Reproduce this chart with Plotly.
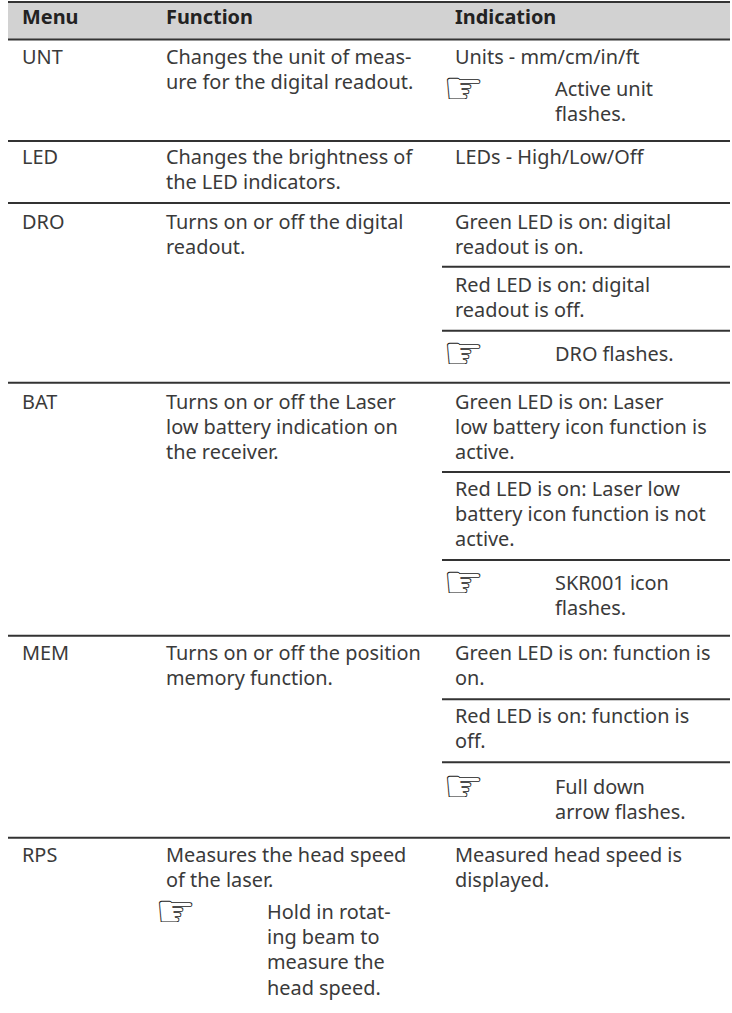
import plotly.graph_objects as go

# column positions
X_MENU, X_FUNC, X_IND = 22, 166, 455
X_SUB_FUNC, X_SUB_IND = 267, 555
X_HAND_FUNC, X_HAND_IND = 155, 443
X_LEFT, X_SPLIT, X_RIGHT = 8, 442, 730

headers = ["Menu", "Function", "Indication"]
header_x = [X_MENU, X_FUNC, X_IND]
header_y = [19, 19, 19]

body_text = [
    "UNT", "Changes the unit of meas-", "ure for the digital readout.",
    "Units - mm/cm/in/ft",
    "LED", "Changes the brightness of", "the LED indicators.", "LEDs - High/Low/Off",
    "DRO", "Turns on or off the digital", "readout.",
    "Green LED is on: digital", "readout is on.",
    "Red LED is on: digital", "readout is off.",
    "BAT", "Turns on or off the Laser", "low battery indication on", "the receiver.",
    "Green LED is on: Laser", "low battery icon function is", "active.",
    "Red LED is on: Laser low", "battery icon function is not", "active.",
    "MEM", "Turns on or off the position", "memory function.",
    "Green LED is on: function is", "on.",
    "Red LED is on: function is", "off.",
    "RPS", "Measures the head speed", "of the laser.",
    "Measured head speed is", "displayed.",
]
body_x = [
    X_MENU, X_FUNC, X_FUNC, X_IND,
    X_MENU, X_FUNC, X_FUNC, X_IND,
    X_MENU, X_FUNC, X_FUNC, X_IND, X_IND, X_IND, X_IND,
    X_MENU, X_FUNC, X_FUNC, X_FUNC, X_IND, X_IND, X_IND, X_IND, X_IND, X_IND,
    X_MENU, X_FUNC, X_FUNC, X_IND, X_IND, X_IND, X_IND,
    X_MENU, X_FUNC, X_FUNC, X_IND, X_IND,
]
body_y = [
    59, 59, 84, 59,
    159, 159, 184, 159,
    224, 224, 249, 224, 249, 287, 312,
    404, 404, 429, 454, 404, 429, 454, 491, 516, 541,
    655, 655, 680, 655, 680, 718, 743,
    857, 857, 882, 857, 882,
]

note_text = ["Active unit", "flashes.", "DRO flashes.", "SKR001 icon", "flashes.",
             "Full down", "arrow flashes.",
             "Hold in rotat-", "ing beam to", "measure the", "head speed."]
note_x = [X_SUB_IND] * 7 + [X_SUB_FUNC] * 4
note_y = [91, 116, 356, 585, 610, 789, 814, 914, 939, 964, 990]

hand_x = [X_HAND_IND, X_HAND_IND, X_HAND_IND, X_HAND_IND, X_HAND_FUNC]
hand_y = [92, 357, 586, 790, 915]

full_rules = [2, 39.5, 141, 203, 382.7, 635.7, 837.7]
partial_rules = [266.7, 330.7, 472, 560, 699.3, 762.3]

TEXT = "#3a3a3a"
RULE = "#333333"
FONT = "Noto Sans"

fig = go.Figure()


def rules(levels, left):
    xs, ys = [], []
    for y in levels:
        xs += [left, X_RIGHT, None]
        ys += [y, y, None]
    return go.Scatter(x=xs, y=ys, mode="lines", line=dict(color=RULE, width=2),
                      hoverinfo="skip", showlegend=False)


fig.add_trace(go.Scatter(x=[X_LEFT, X_RIGHT, X_RIGHT, X_LEFT, X_LEFT],
                         y=[full_rules[0], full_rules[0], full_rules[1], full_rules[1], full_rules[0]],
                         mode="lines", fill="toself", fillcolor="#d2d2d2",
                         line=dict(width=0), hoverinfo="skip", showlegend=False))
fig.add_trace(rules(full_rules, X_LEFT))
fig.add_trace(rules(partial_rules, X_SPLIT))


def text_trace(x, y, text, size=19.9, family=FONT, color=TEXT):
    return go.Scatter(x=x, y=y, text=text, mode="text", textposition="middle right",
                      textfont=dict(family=family, size=size, color=color),
                      hoverinfo="skip", showlegend=False)


fig.add_trace(text_trace(header_x, header_y, ["<b>%s</b>" % h for h in headers], color="#222222"))
fig.add_trace(text_trace(body_x, body_y, body_text))
fig.add_trace(text_trace(note_x, note_y, note_text))
fig.add_trace(text_trace(hand_x, hand_y, ["\u261e"] * len(hand_x), size=46, family="DejaVu Sans", color="#222222"))

axis = dict(visible=False, fixedrange=True)
fig.update_layout(
    width=732, height=1013, margin=dict(l=0, r=0, t=0, b=0),
    paper_bgcolor="white", plot_bgcolor="white", showlegend=False,
    xaxis=dict(range=[0, 732], **axis),
    yaxis=dict(range=[1013, 0], **axis),
)
fig.write_html("out.html", config={"displayModeBar": False},
               post_script="document.body.style.margin='0';document.documentElement.style.overflow='hidden';")
